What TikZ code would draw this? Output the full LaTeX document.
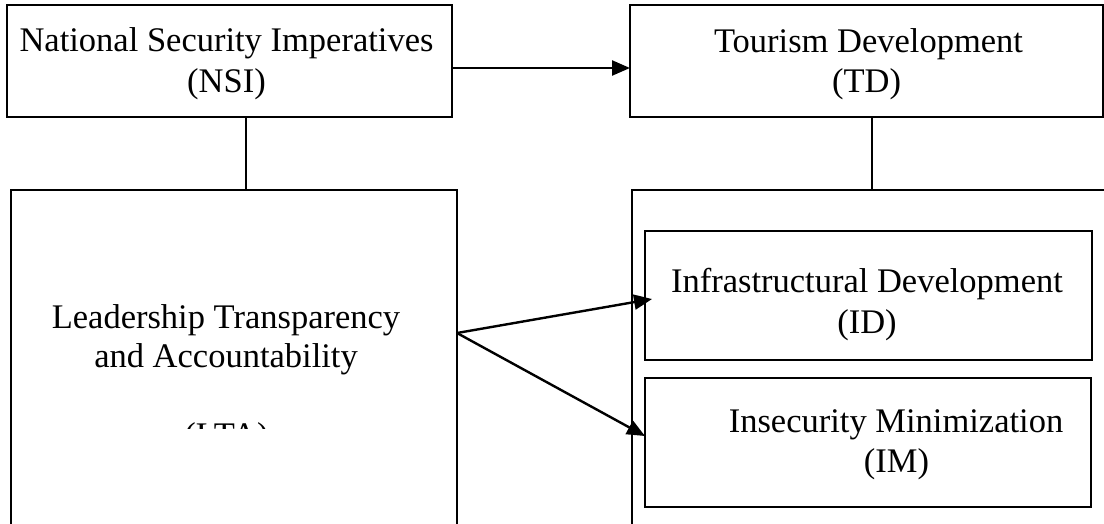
\documentclass[tikz,border=0pt]{standalone}
\usepackage{fontspec}
\setmainfont{Liberation Serif}
\usetikzlibrary{arrows.meta}
\begin{document}
\begin{tikzpicture}[x=1pt,y=-1pt,
  box/.style={draw, line width=2.2pt, inner sep=0pt, outer sep=0pt},
  thinbox/.style={draw, line width=1.5pt, inner sep=0pt, outer sep=0pt},
  txt/.style={anchor=base, inner sep=0pt, font=\fontsize{34.5}{41}\selectfont},
  conn/.style={line width=2.2pt},
  thinconn/.style={line width=1.5pt},
  arr/.style={line width=2.4pt, -{Triangle[length=18pt,width=15pt]}}]
\useasboundingbox (0,0) rectangle (1104,523);
\clip (0,0) rectangle (1104,523);
% boxes
\node[box, minimum width=445pt, minimum height=112pt] (nsi) at (229.5,61) {};
\node[box, minimum width=473pt, minimum height=112pt] (td) at (866.5,61) {};
\node[box, minimum width=446pt, minimum height=400pt, anchor=north] (lta) at (234,190) {};
\node[thinbox, minimum width=600pt, minimum height=400pt, anchor=north west] (rbox) at (632,190) {};
\node[box, minimum width=447pt, minimum height=129pt] (id) at (868.5,295.5) {};
\node[box, minimum width=446pt, minimum height=129pt] (im) at (868,442.5) {};
% texts
\node[txt] (nsiA) at (226.5,51) {National Security Imperatives};
\node[txt] (nsiB) at (226.5,92) {(NSI)};
\node[txt] (tdA) at (868.5,52) {Tourism Development};
\node[txt] (tdB) at (866.5,92) {(TD)};
\node[txt] (ltaA) at (226,328) {Leadership Transparency};
\node[txt] (ltaB) at (226,367) {and Accountability};
\begin{scope}
  \clip (0,0) rectangle (1104,428);
  \node[txt] (ltaC) at (226.5,446) {(LTA)};
\end{scope}
\node[txt] (idA) at (867,292) {Infrastructural Development};
\node[txt] (idB) at (867,333) {(ID)};
\node[txt] (imA) at (896,432) {Insecurity Minimization};
\node[txt] (imB) at (896.5,472) {(IM)};
% connectors
\draw[arr] ([yshift=-7pt]nsi.east) -- ([yshift=-7pt]nsi.east -| td.west);
\draw[conn] ([xshift=16.5pt]nsi.south) -- ([xshift=16.5pt]nsi.south |- lta.north);
\draw[thinconn] ([xshift=5.5pt]td.south) -- ([xshift=5.5pt]td.south |- rbox.north);
\coordinate (o) at (lta.east |- 0,333);
\draw[arr] (o) -- ([shift={(7pt,-3.5pt)}]id.west);
\draw[arr] (o) -- ([yshift=6.5pt]im.west);
\end{tikzpicture}
\end{document}
